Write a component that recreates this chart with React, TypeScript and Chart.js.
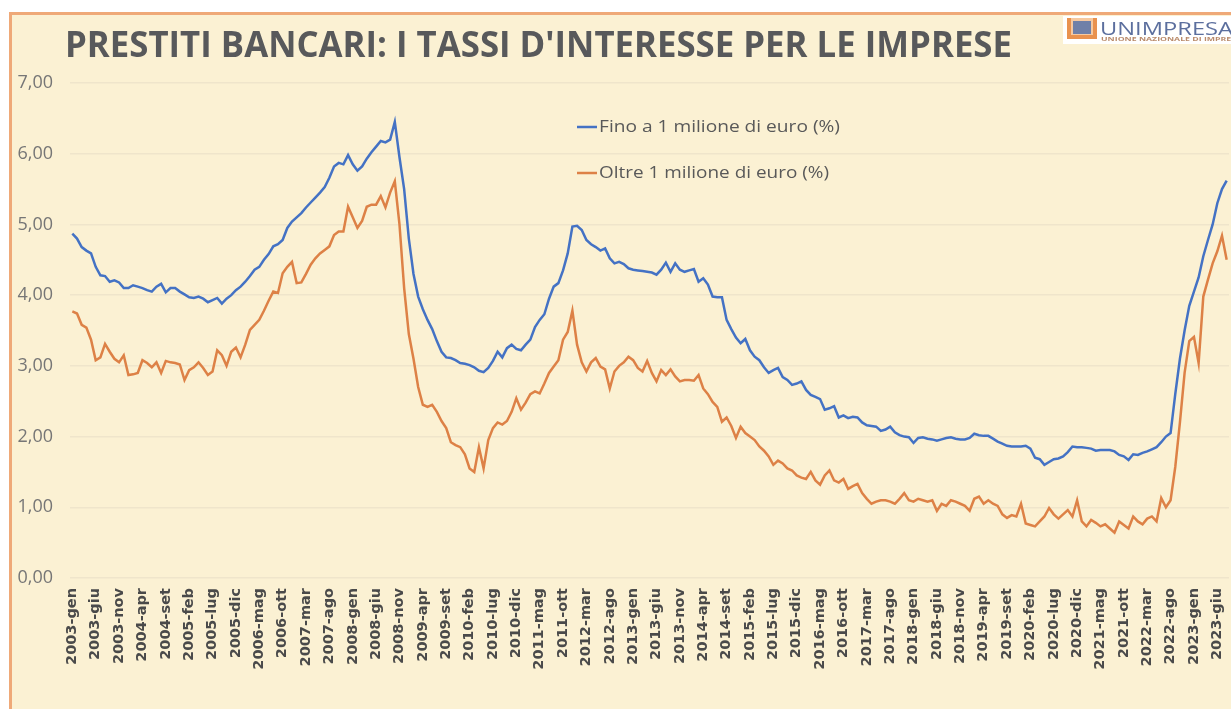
import React, { useEffect, useRef } from 'react';
import { Chart, registerables } from 'chart.js';

Chart.register(...registerables);

// ---------- DATA ----------
const YEARS = [2003, 2004, 2005, 2006, 2007, 2008, 2009, 2010, 2011, 2012, 2013, 2014, 2015, 2016, 2017, 2018, 2019, 2020, 2021, 2022, 2023];
const MONTHS = ['gen', 'feb', 'mar', 'apr', 'mag', 'giu', 'lug', 'ago', 'set', 'ott', 'nov', 'dic'];
const LAST_MONTH_2023 = 8; // gen..ago
const CATEGORIES: string[] = [];
YEARS.forEach((y) => {
  const n = y === 2023 ? LAST_MONTH_2023 : 12;
  for (let m = 0; m < n; m++) CATEGORIES.push(`${y}-${MONTHS[m]}`);
});
const TICK_EVERY = 5;

const TITLE = "PRESTITI BANCARI: I TASSI D'INTERESSE PER LE IMPRESE";
const SERIES_NAMES = ['Fino a 1 milione di euro (%)', 'Oltre 1 milione di euro (%)'];

// Fino a 1 milione di euro (%), monthly 2003-gen .. 2023-ago
const FINO = [
  4.87, 4.80, 4.68, 4.63, 4.59, 4.40, 4.28, 4.27, 4.19, 4.21, 4.18, 4.10, // 2003
  4.10, 4.14, 4.12, 4.10, 4.07, 4.05, 4.12, 4.16, 4.04, 4.10, 4.10, 4.05, // 2004
  4.01, 3.97, 3.96, 3.98, 3.95, 3.90, 3.93, 3.96, 3.88, 3.95, 4.00, 4.07, // 2005
  4.12, 4.19, 4.27, 4.36, 4.40, 4.50, 4.58, 4.69, 4.72, 4.78, 4.95, 5.04, // 2006
  5.10, 5.16, 5.24, 5.31, 5.38, 5.45, 5.53, 5.66, 5.82, 5.87, 5.85, 5.98, // 2007
  5.85, 5.76, 5.82, 5.93, 6.02, 6.10, 6.18, 6.16, 6.20, 6.45, 5.95, 5.50, // 2008
  4.80, 4.30, 3.98, 3.80, 3.65, 3.52, 3.35, 3.20, 3.12, 3.11, 3.08, 3.04, // 2009
  3.03, 3.01, 2.98, 2.93, 2.91, 2.97, 3.07, 3.20, 3.12, 3.25, 3.30, 3.24, // 2010
  3.22, 3.30, 3.37, 3.55, 3.65, 3.73, 3.95, 4.12, 4.17, 4.35, 4.59, 4.97, // 2011
  4.98, 4.92, 4.78, 4.72, 4.68, 4.63, 4.66, 4.52, 4.45, 4.47, 4.44, 4.38, // 2012
  4.36, 4.35, 4.34, 4.33, 4.32, 4.29, 4.36, 4.46, 4.33, 4.45, 4.36, 4.33, // 2013
  4.35, 4.37, 4.19, 4.24, 4.15, 3.98, 3.97, 3.97, 3.65, 3.52, 3.40, 3.32, // 2014
  3.38, 3.22, 3.13, 3.08, 2.98, 2.90, 2.94, 2.97, 2.84, 2.80, 2.73, 2.75, // 2015
  2.78, 2.66, 2.59, 2.56, 2.53, 2.38, 2.40, 2.43, 2.27, 2.30, 2.26, 2.28, // 2016
  2.27, 2.20, 2.16, 2.15, 2.14, 2.08, 2.10, 2.14, 2.06, 2.02, 2.00, 1.99, // 2017
  1.91, 1.98, 1.99, 1.97, 1.96, 1.94, 1.96, 1.98, 1.99, 1.97, 1.96, 1.96, // 2018
  1.98, 2.04, 2.02, 2.01, 2.01, 1.97, 1.93, 1.90, 1.87, 1.86, 1.86, 1.86, // 2019
  1.87, 1.83, 1.70, 1.68, 1.60, 1.64, 1.68, 1.69, 1.72, 1.78, 1.86, 1.85, // 2020
  1.85, 1.84, 1.83, 1.80, 1.81, 1.81, 1.81, 1.79, 1.74, 1.72, 1.67, 1.75, // 2021
  1.74, 1.77, 1.79, 1.82, 1.85, 1.92, 2.00, 2.05, 2.60, 3.10, 3.50, 3.85, // 2022
  4.05, 4.25, 4.55, 4.78, 5.00, 5.30, 5.50, 5.62, // 2023
];

// Oltre 1 milione di euro (%), monthly 2003-gen .. 2023-ago
const OLTRE = [
  3.77, 3.74, 3.58, 3.54, 3.37, 3.08, 3.12, 3.31, 3.20, 3.10, 3.05, 3.15, // 2003
  2.87, 2.88, 2.90, 3.08, 3.04, 2.98, 3.05, 2.90, 3.07, 3.05, 3.04, 3.02, // 2004
  2.80, 2.94, 2.98, 3.05, 2.97, 2.87, 2.92, 3.22, 3.15, 3.00, 3.20, 3.26, // 2005
  3.12, 3.30, 3.51, 3.58, 3.65, 3.78, 3.92, 4.05, 4.03, 4.31, 4.40, 4.47, // 2006
  4.17, 4.18, 4.30, 4.43, 4.52, 4.59, 4.64, 4.69, 4.85, 4.90, 4.90, 5.25, // 2007
  5.10, 4.95, 5.05, 5.25, 5.28, 5.28, 5.40, 5.24, 5.45, 5.61, 5.00, 4.10, // 2008
  3.45, 3.10, 2.70, 2.45, 2.42, 2.45, 2.35, 2.22, 2.12, 1.92, 1.88, 1.85, // 2009
  1.75, 1.55, 1.50, 1.85, 1.55, 1.95, 2.12, 2.20, 2.17, 2.22, 2.35, 2.54, // 2010
  2.38, 2.48, 2.60, 2.64, 2.61, 2.75, 2.90, 2.99, 3.08, 3.37, 3.48, 3.78, // 2011
  3.30, 3.05, 2.92, 3.05, 3.11, 2.99, 2.95, 2.68, 2.92, 3.00, 3.05, 3.13, // 2012
  3.08, 2.97, 2.92, 3.07, 2.90, 2.78, 2.94, 2.87, 2.95, 2.85, 2.78, 2.80, // 2013
  2.80, 2.79, 2.87, 2.68, 2.60, 2.49, 2.42, 2.21, 2.27, 2.15, 1.98, 2.14, // 2014
  2.05, 2.00, 1.95, 1.86, 1.80, 1.72, 1.60, 1.66, 1.62, 1.55, 1.52, 1.45, // 2015
  1.42, 1.40, 1.50, 1.38, 1.32, 1.45, 1.52, 1.38, 1.35, 1.40, 1.26, 1.30, // 2016
  1.33, 1.20, 1.12, 1.05, 1.08, 1.10, 1.10, 1.08, 1.05, 1.12, 1.20, 1.10, // 2017
  1.08, 1.12, 1.10, 1.08, 1.10, 0.95, 1.05, 1.02, 1.10, 1.08, 1.05, 1.02, // 2018
  0.95, 1.12, 1.15, 1.05, 1.10, 1.05, 1.02, 0.90, 0.85, 0.89, 0.87, 1.05, // 2019
  0.77, 0.75, 0.73, 0.80, 0.87, 0.99, 0.90, 0.84, 0.90, 0.96, 0.87, 1.10, // 2020
  0.80, 0.73, 0.82, 0.78, 0.73, 0.76, 0.70, 0.64, 0.80, 0.75, 0.70, 0.87, // 2021
  0.80, 0.76, 0.84, 0.87, 0.80, 1.13, 1.00, 1.10, 1.57, 2.20, 2.90, 3.35, // 2022
  3.41, 3.04, 3.98, 4.22, 4.45, 4.62, 4.84, 4.50, // 2023
];

const Y_MIN = 0;
const Y_MAX = 7;
const Y_STEP = 1;

// ---------- STYLE ----------
const W = 1231;
const H = 709;
const BG = '#FBF1D3';
const FRAME = '#EFA978';
const GRID = '#EFE5CB';
const BLUE = '#4472C4';
const ORANGE = '#DD8146';
const FONT = '"Open Sans", "DejaVu Sans", sans-serif';
const TICK_FONT = '"DejaVu Sans", sans-serif';

function fitText(ctx: CanvasRenderingContext2D, text: string, x: number, y: number, width: number) {
  const w = ctx.measureText(text).width;
  ctx.save();
  ctx.translate(x, y);
  ctx.scale(width / w, 1);
  ctx.fillText(text, 0, 0);
  ctx.restore();
}

const decorPlugin = {
  id: 'decor',
  beforeDraw(chart: any) {
    const ctx: CanvasRenderingContext2D = chart.ctx;
    ctx.save();
    ctx.fillStyle = '#ffffff';
    ctx.fillRect(0, 0, W, H);
    ctx.fillStyle = BG;
    ctx.fillRect(10, 12, W - 10, H - 12);
    ctx.fillStyle = FRAME;
    ctx.fillRect(9, 12, W - 9, 3);
    ctx.fillRect(9, 12, 3, H - 12);
    ctx.restore();
  },
  afterDraw(chart: any) {
    const ctx: CanvasRenderingContext2D = chart.ctx;
    ctx.save();
    // title
    ctx.fillStyle = '#58595B';
    ctx.font = `bold 36px ${FONT}`;
    ctx.textBaseline = 'alphabetic';
    ctx.textAlign = 'left';
    fitText(ctx, TITLE, 65, 57, 947);

    // logo
    ctx.fillStyle = '#ffffff';
    ctx.fillRect(1063, 16, W - 1063, 28);
    ctx.fillStyle = '#E9924F';
    ctx.fillRect(1067, 18, 30, 21);
    ctx.fillStyle = '#F6C9A0';
    ctx.fillRect(1071, 18, 22, 17);
    ctx.fillStyle = '#6F80A8';
    ctx.fillRect(1073, 21, 18, 13);
    ctx.fillStyle = '#5C6F9E';
    ctx.font = `19px ${FONT}`;
    fitText(ctx, 'UNIMPRESA', 1100, 35, 133);
    ctx.fillStyle = '#B98A6A';
    ctx.font = `bold 5px ${FONT}`;
    fitText(ctx, 'UNIONE NAZIONALE DI IMPRESE', 1101, 41, 140);

    // legend
    const items = [
      { name: SERIES_NAMES[0], color: BLUE, y: 127, w: 241 },
      { name: SERIES_NAMES[1], color: ORANGE, y: 173, w: 230 },
    ];
    items.forEach((it) => {
      ctx.strokeStyle = it.color;
      ctx.lineWidth = 2.5;
      ctx.beginPath();
      ctx.moveTo(577, it.y);
      ctx.lineTo(597, it.y);
      ctx.stroke();
      ctx.fillStyle = '#595959';
      ctx.font = `17px ${FONT}`;
      ctx.textBaseline = 'middle';
      fitText(ctx, it.name, 599, it.y, it.w);
    });
    ctx.restore();
  },
};

export default function App() {
  const ref = useRef<HTMLCanvasElement | null>(null);
  useEffect(() => {
    if (!ref.current) return;
    const chart = new Chart(ref.current, {
      type: 'line',
      data: {
        labels: CATEGORIES,
        datasets: [
          { label: SERIES_NAMES[0], data: FINO, borderColor: BLUE, backgroundColor: BLUE, borderWidth: 2.5, pointRadius: 0, tension: 0, fill: false },
          { label: SERIES_NAMES[1], data: OLTRE, borderColor: ORANGE, backgroundColor: ORANGE, borderWidth: 2.5, pointRadius: 0, tension: 0, fill: false },
        ],
      },
      options: {
        animation: false,
        responsive: false,
        maintainAspectRatio: false,
        layout: { padding: { top: 83, right: 2, left: 0, bottom: 0 } },
        plugins: { legend: { display: false }, title: { display: false }, tooltip: { enabled: false } },
        scales: {
          x: {
            type: 'category',
            offset: true,
            grid: { display: false, drawTicks: false },
            border: { display: false },
            ticks: {
              autoSkip: false,
              minRotation: 90,
              maxRotation: 90,
              padding: 10,
              color: '#4A4A4A',
              font: { family: TICK_FONT, size: 14.5, weight: 'bold' },
              callback: (_v: any, i: number) => (i % TICK_EVERY === 0 ? CATEGORIES[i] : ''),
            },
            afterFit: (s: any) => {
              s.height = H - 578;
              s.paddingLeft = 0;
              s.paddingRight = 0;
            },
          },
          y: {
            min: Y_MIN,
            max: Y_MAX,
            ticks: {
              stepSize: Y_STEP,
              padding: 17,
              color: '#767676',
              font: { family: FONT, size: 18 },
              callback: (v: any) => Number(v).toFixed(2).replace('.', ','),
            },
            grid: { color: GRID, lineWidth: 1.5, drawTicks: false },
            border: { display: false },
            afterFit: (s: any) => { s.width = 70; },
          },
        },
      },
      plugins: [decorPlugin],
    } as any);
    return () => chart.destroy();
  }, []);
  return (
    <div style={{ position: 'fixed', left: 0, top: 0, width: W, height: H, background: '#fff' }}>
      <canvas ref={ref} width={W} height={H} style={{ width: W, height: H, display: 'block' }} />
    </div>
  );
}
